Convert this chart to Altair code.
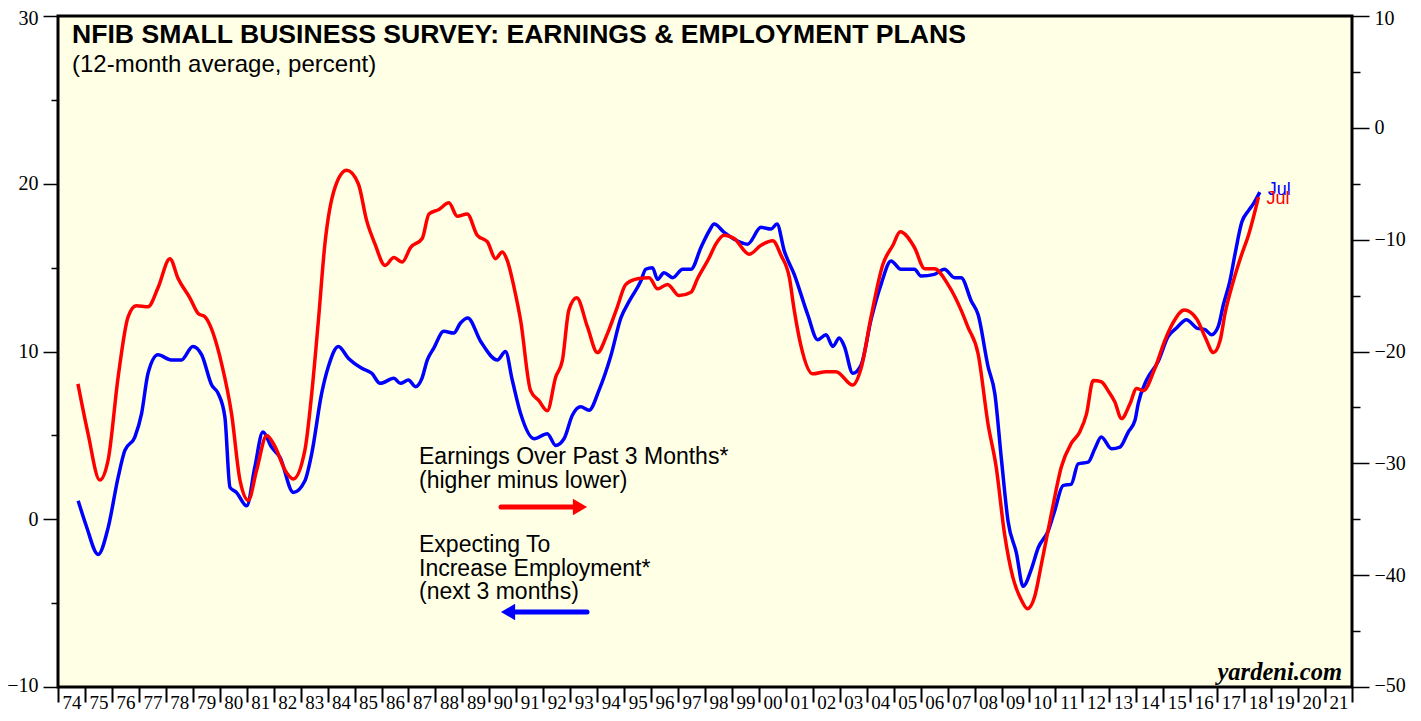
import altair as alt
import pandas as pd

# ---- data ----
emp_years = [1974.75, 1975.05, 1975.49, 1975.86, 1976.23, 1976.48, 1976.85, 1977.10, 1977.34, 1977.71,
             1978.20, 1978.58, 1979.00, 1979.33, 1979.70, 1979.94, 1980.19, 1980.38, 1980.62, 1981.00,
             1981.30, 1981.60, 1981.92, 1982.23, 1982.73, 1983.16, 1983.41, 1983.78, 1984.03, 1984.40,
             1984.77, 1985.27, 1985.64, 1985.95, 1986.46, 1986.70, 1987.00, 1987.26, 1987.50, 1987.70,
             1987.94, 1988.31, 1988.68, 1988.93, 1989.20, 1989.68, 1990.30, 1990.60, 1990.85, 1991.16,
             1991.66, 1992.15, 1992.46, 1992.77, 1993.08, 1993.39, 1993.70, 1994.07, 1994.50, 1994.88,
             1995.19, 1995.62, 1995.80, 1996.05, 1996.24, 1996.48, 1996.80, 1997.17, 1997.48, 1997.85,
             1998.16, 1998.34, 1998.71, 1999.08, 1999.58, 2000.08, 2000.45, 2000.67, 2000.94, 2001.31,
             2001.81, 2002.18, 2002.49, 2002.74, 2002.98, 2003.17, 2003.48, 2003.79, 2004.16, 2004.53,
             2004.90, 2005.27, 2005.77, 2006.01, 2006.51, 2006.88, 2007.26, 2007.50, 2007.88, 2008.13,
             2008.50, 2008.75, 2009.00, 2009.24, 2009.55, 2009.80, 2010.10, 2010.36, 2010.73, 2010.97,
             2011.28, 2011.59, 2011.84, 2012.21, 2012.46, 2012.70, 2013.08, 2013.39, 2013.70, 2013.95,
             2014.07, 2014.38, 2014.81, 2015.18, 2015.49, 2015.86, 2016.24, 2016.55, 2016.79, 2017.04,
             2017.23, 2017.47, 2017.66, 2017.91, 2018.16, 2018.34, 2018.58]
emp_values = [1.1, -0.4, -2.1, -0.5, 2.5, 4.1, 4.9, 6.3, 8.7, 9.8,
              9.5, 9.5, 10.3, 9.8, 8.0, 7.5, 6.1, 1.9, 1.6, 0.8,
              3.1, 5.2, 4.3, 3.7, 1.6, 2.3, 3.9, 7.5, 9.1, 10.3,
              9.6, 9.0, 8.7, 8.1, 8.4, 8.1, 8.3, 7.9, 8.4, 9.5,
              10.2, 11.2, 11.1, 11.7, 12.0, 10.6, 9.5, 10.0, 8.3, 6.3,
              4.8, 5.1, 4.4, 4.8, 6.2, 6.7, 6.5, 7.7, 9.7, 12.0,
              13.0, 14.2, 14.9, 15.0, 14.3, 14.7, 14.4, 14.9, 14.9, 16.2,
              17.2, 17.6, 17.1, 16.7, 16.4, 17.4, 17.3, 17.6, 16.0, 14.6,
              12.2, 10.7, 11.0, 10.3, 10.8, 10.3, 8.7, 9.2, 11.9, 14.0,
              15.4, 14.9, 14.9, 14.5, 14.6, 14.9, 14.4, 14.4, 13.0, 12.2,
              9.1, 7.5, 3.5, -0.1, -2.0, -4.0, -3.0, -1.7, -0.7, 0.5,
              2.0, 2.1, 3.3, 3.4, 4.2, 4.9, 4.2, 4.3, 5.2, 5.9,
              6.9, 8.3, 9.4, 10.9, 11.4, 11.9, 11.4, 11.3, 11.0, 11.5,
              12.8, 14.2, 15.8, 17.7, 18.4, 18.8, 19.5]

earn_years = [1974.74, 1975.11, 1975.55, 1975.86, 1976.23, 1976.60, 1976.90, 1977.34, 1977.71, 1978.15,
              1978.46, 1978.89, 1979.20, 1979.45, 1980.07, 1980.44, 1980.75, 1981.06, 1981.37, 1981.74,
              1982.05, 1982.42, 1982.73, 1983.16, 1983.41, 1983.66, 1983.90, 1984.28, 1984.71, 1985.14,
              1985.45, 1985.76, 1986.13, 1986.46, 1986.77, 1987.08, 1987.51, 1987.76, 1988.13, 1988.50,
              1988.81, 1989.18, 1989.55, 1989.93, 1990.23, 1990.48, 1990.67, 1990.92, 1991.16, 1991.53,
              1991.84, 1992.15, 1992.46, 1992.71, 1992.95, 1993.24, 1993.64, 1994.01, 1994.38, 1994.75,
              1995.06, 1995.50, 1995.93, 1996.24, 1996.61, 1997.04, 1997.48, 1997.72, 1998.16, 1998.40,
              1998.71, 1999.08, 1999.64, 2000.08, 2000.51, 2000.82, 2001.13, 2001.31, 2001.56, 2001.99,
              2002.49, 2002.86, 2003.48, 2003.79, 2004.16, 2004.60, 2004.97, 2005.24, 2005.77, 2006.15,
              2006.51, 2007.01, 2007.50, 2007.75, 2008.13, 2008.50, 2008.80, 2009.11, 2009.42, 2009.73,
              2009.96, 2010.23, 2010.48, 2010.85, 2011.22, 2011.59, 2011.90, 2012.15, 2012.40, 2012.70,
              2012.95, 2013.20, 2013.45, 2013.76, 2014.01, 2014.26, 2014.69, 2015.06, 2015.37, 2015.78,
              2016.24, 2016.55, 2016.86, 2017.11, 2017.29, 2017.60, 2017.91, 2018.16, 2018.53]
earn_values = [-22.9, -27.3, -31.5, -29.7, -22.3, -16.9, -15.9, -16.0, -14.3, -11.7,
               -13.5, -15.2, -16.6, -16.9, -21.1, -25.6, -31.5, -33.3, -30.6, -27.5,
               -28.5, -30.6, -31.4, -28.8, -23.8, -17.2, -10.4, -5.3, -3.8, -5.0,
               -8.3, -10.4, -12.3, -11.6, -12.0, -10.7, -9.9, -7.7, -7.3, -6.7,
               -7.9, -7.7, -9.6, -10.2, -11.7, -11.1, -11.9, -14.3, -17.2, -23.5,
               -24.4, -25.3, -22.3, -20.8, -16.3, -15.2, -17.8, -20.1, -18.4, -16.0,
               -14.0, -13.5, -13.4, -14.4, -14.0, -15.0, -14.7, -13.5, -11.6, -10.4,
               -9.6, -9.9, -11.3, -10.5, -10.1, -11.4, -13.4, -16.3, -19.5, -22.0,
               -21.8, -21.8, -23.0, -21.5, -16.9, -12.2, -10.5, -9.3, -10.7, -12.6,
               -12.6, -14.0, -16.3, -17.8, -20.2, -26.5, -30.3, -36.3, -40.2, -42.2,
               -43.0, -41.9, -39.0, -34.5, -30.3, -28.2, -27.2, -25.6, -22.6, -22.7,
               -23.5, -24.5, -26.0, -24.7, -23.3, -23.5, -21.5, -19.0, -17.4, -16.3,
               -17.1, -18.7, -20.1, -19.0, -16.6, -13.7, -11.3, -9.6, -6.2]

year_ticks = list(range(1974, 2023))
left_ticks = list(range(-10, 31, 5))
right_ticks = list(range(-50, 11, 5))

title_text = "NFIB SMALL BUSINESS SURVEY: EARNINGS & EMPLOYMENT PLANS"
subtitle_text = "(12-month average, percent)"
earn_label = ["Earnings Over Past 3 Months*", "(higher minus lower)"]
emp_label = ["Expecting To", "Increase Employment*", "(next 3 months)"]
source_text = "yardeni.com"
last_label = "Jul"

BLUE = "#0000FF"
RED = "#FF0000"
BG = "#FFFFE6"
SANS = "Liberation Sans"
SERIF = "Liberation Serif"

W, H = 1294, 671

emp_df = pd.DataFrame({"year": emp_years, "value": emp_values})
earn_df = pd.DataFrame({"year": earn_years, "value": earn_values})
emp_last = emp_df.tail(1).assign(lbl=last_label)
earn_last = earn_df.tail(1).assign(lbl=last_label)

x_scale = alt.Scale(domain=[1974, 2022], nice=False, zero=False)
yl_scale = alt.Scale(domain=[-10, 30], nice=False, zero=False)
yr_scale = alt.Scale(domain=[-50, 10], nice=False, zero=False)

x_axis = alt.Axis(
    values=year_ticks,
    labelExpr="datum.value == 2022 ? '' : substring(toString(datum.value), 2, 4)",
    labelOffset=13.5, labelFlush=False, labelOverlap=False, labelBound=False,
    tickSize=15, tickWidth=2, tickColor="black", domain=False, grid=False,
    labelFont=SERIF, labelFontSize=19, labelColor="black", labelPadding=10,
    labelBaseline="bottom", labelAlign="center", title=None,
)

left_axis = alt.Axis(
    orient="left", values=left_ticks,
    labelExpr="datum.value % 10 == 0 ? datum.label : ''",
    tickSize={"condition": {"test": "datum.value % 10 == 0", "value": 15}, "value": 7},
    tickWidth=1.5, tickColor="black", domain=False, grid=False,
    labelFont=SERIF, labelFontSize=20, labelColor="black", labelPadding=5,
    labelFlush=True, labelFlushOffset=8, labelOverlap=False, title=None,
)
right_axis = alt.Axis(
    orient="right", values=right_ticks,
    labelExpr="datum.value % 10 == 0 ? datum.label : ''",
    tickSize={"condition": {"test": "datum.value % 10 == 0", "value": 17}, "value": 8},
    tickWidth=1.5, tickColor="black", domain=False, grid=False,
    labelFont=SERIF, labelFontSize=20, labelColor="black", labelPadding=5,
    labelFlush=True, labelFlushOffset=8, labelOverlap=False, title=None,
)

emp_line = alt.Chart(emp_df).mark_line(color=BLUE, strokeWidth=3.5, interpolate="monotone").encode(
    x=alt.X("year:Q", scale=x_scale, axis=x_axis),
    y=alt.Y("value:Q", scale=yl_scale, axis=left_axis),
)
earn_line = alt.Chart(earn_df).mark_line(color=RED, strokeWidth=3.5, interpolate="monotone").encode(
    x=alt.X("year:Q", scale=x_scale, axis=x_axis),
    y=alt.Y("value:Q", scale=yr_scale, axis=right_axis),
)
emp_jul = alt.Chart(emp_last).mark_text(color=BLUE, font=SANS, fontSize=18, align="left",
                                        baseline="middle", dx=8, dy=-2).encode(
    x=alt.X("year:Q", scale=x_scale, axis=x_axis),
    y=alt.Y("value:Q", scale=yl_scale, axis=None),
    text="lbl:N",
)
earn_jul = alt.Chart(earn_last).mark_text(color=RED, font=SANS, fontSize=18, align="left",
                                          baseline="middle", dx=8, dy=2).encode(
    x=alt.X("year:Q", scale=x_scale, axis=x_axis),
    y=alt.Y("value:Q", scale=yr_scale, axis=None),
    text="lbl:N",
)


def text_layer(text, x, y, size, weight="normal", style="normal", font=SANS, align="left", color="black"):
    return alt.Chart(pd.DataFrame({"t": [text]})).mark_text(
        font=font, fontSize=size, fontWeight=weight, fontStyle=style, align=align,
        baseline="middle", color=color,
    ).encode(x=alt.value(x), y=alt.value(y), text="t:N")


title = text_layer(title_text, 14, 19, 26.6, weight="bold")
subtitle = text_layer(subtitle_text, 14, 49, 24)
earn_txt = [text_layer(t, 361, 441 + 24 * i, 23) for i, t in enumerate(earn_label)]
emp_txt = [text_layer(t, 361, 529 + 23.5 * i, 23) for i, t in enumerate(emp_label)]
source = text_layer(source_text, 1284, 657, 24.5, weight="bold", style="italic", font=SERIF, align="right")

arrow_df = pd.DataFrame({"k": [0]})
red_shaft = alt.Chart(arrow_df).mark_rule(color=RED, strokeWidth=5, strokeCap="round").encode(
    x=alt.value(443), x2=alt.value(516), y=alt.value(491))
red_head = alt.Chart(arrow_df).mark_point(shape="triangle-right", filled=True, color=RED, size=270,
                                          opacity=1).encode(x=alt.value(522), y=alt.value(491))
blue_shaft = alt.Chart(arrow_df).mark_rule(color=BLUE, strokeWidth=5, strokeCap="round").encode(
    x=alt.value(456), x2=alt.value(529), y=alt.value(596))
blue_head = alt.Chart(arrow_df).mark_point(shape="triangle-left", filled=True, color=BLUE, size=270,
                                           opacity=1).encode(x=alt.value(450), y=alt.value(596))

chart = alt.layer(
    emp_line, earn_line, emp_jul, earn_jul,
    title, subtitle, *earn_txt, *emp_txt, source,
    red_shaft, red_head, blue_shaft, blue_head,
).resolve_scale(y="independent").properties(
    width=W, height=H,
    padding={"left": 50, "top": 8, "right": 55, "bottom": 26},
    autosize=alt.AutoSizeParams(type="none"),
    background="white",
).configure_view(
    stroke="black", strokeWidth=3, fill=BG,
)

chart.save("out.html", embed_options={"renderer": "svg", "actions": False})
